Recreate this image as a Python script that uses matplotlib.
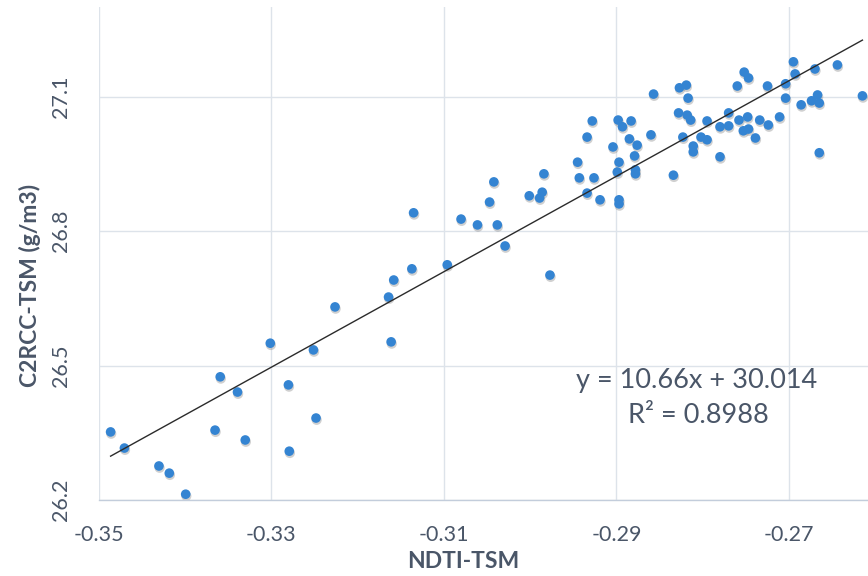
import numpy as np
import matplotlib
matplotlib.use("Agg")
import matplotlib.pyplot as plt
from matplotlib.transforms import offset_copy

# ── Data ─────────────────────────────────────────────────────────
ndti_tsm = [
    -0.3486, -0.3470, -0.3430, -0.3418, -0.3399, -0.3365, -0.3359, -0.3339,
    -0.3330, -0.3301, -0.3280, -0.3279, -0.3251, -0.3248, -0.3226, -0.3164,
    -0.3161, -0.3158, -0.3137, -0.3135, -0.3096, -0.3080, -0.3061, -0.3038,
    -0.3047, -0.3042, -0.3029, -0.2977, -0.3001, -0.2989, -0.2986, -0.2984,
    -0.2945, -0.2943, -0.2926, -0.2934, -0.2919, -0.2897, -0.2897, -0.2934,
    -0.2928, -0.2904, -0.2898, -0.2893, -0.2883, -0.2885, -0.2876, -0.2897,
    -0.2879, -0.2899, -0.2878, -0.2878, -0.2860, -0.2857, -0.2834, -0.2828,
    -0.2827, -0.2819, -0.2817, -0.2818, -0.2814, -0.2823, -0.2802, -0.2795,
    -0.2811, -0.2811, -0.2795, -0.2780, -0.2770, -0.2780, -0.2770, -0.2760,
    -0.2752, -0.2747, -0.2725, -0.2704, -0.2704, -0.2695, -0.2693, -0.2670,
    -0.2644, -0.2615, -0.2758, -0.2748, -0.2734, -0.2724, -0.2711, -0.2753,
    -0.2747, -0.2739, -0.2686, -0.2674, -0.2667, -0.2665, -0.2665,
]
c2rcc_tsm = [
    26.352, 26.316, 26.276, 26.260, 26.213, 26.356, 26.475, 26.441,
    26.334, 26.550, 26.457, 26.309, 26.535, 26.383, 26.631, 26.653,
    26.553, 26.691, 26.716, 26.841, 26.725, 26.827, 26.814, 26.814,
    26.865, 26.910, 26.767, 26.702, 26.879, 26.874, 26.887, 26.928,
    26.954, 26.919, 26.919, 26.885, 26.870, 26.870, 26.861, 27.010,
    27.046, 26.988, 27.048, 27.033, 27.046, 27.006, 26.992, 26.954,
    26.968, 26.932, 26.937, 26.928, 27.015, 27.106, 26.925, 27.064,
    27.120, 27.126, 27.097, 27.059, 27.048, 27.010, 27.010, 27.004,
    26.990, 26.977, 27.046, 27.033, 27.035, 26.966, 27.064, 27.124,
    27.155, 27.142, 27.124, 27.129, 27.097, 27.178, 27.151, 27.162,
    27.171, 27.102, 27.048, 27.055, 27.048, 27.037, 27.055, 27.024,
    27.028, 27.008, 27.082, 27.091, 27.104, 27.086, 26.975,
]

slope = 10.66
intercept = 30.014
r_squared = 0.8988

x_ticks = [-0.35, -0.33, -0.31, -0.29, -0.27]
y_ticks = [26.2, 26.5, 26.8, 27.1]

# ── Style ────────────────────────────────────────────────────────
plt.rcParams["font.family"] = ["Lato", "DejaVu Sans"]
text_col = "#4a5668"
grid_col = "#dde3ea"
dot_col = "#3484d2"

fig = plt.figure(figsize=(8.68, 5.76), dpi=100)
ax = fig.add_axes([0.1135, 0.1319, 0.895, 0.8557])

x = np.array(ndti_tsm)
y = np.array(c2rcc_tsm)

# soft drop shadow under each marker, like the Excel style
shadow = offset_copy(ax.transData, fig=fig, x=0.6, y=-1.8, units="dots")
ax.scatter(x, y, s=54, color="#7a7a7a", alpha=0.35, edgecolors="none",
           transform=shadow, zorder=2)
ax.scatter(x, y, s=48, color=dot_col, edgecolors="none", zorder=3)

# linear trendline over the data range
xl = np.array([x.min(), x.max()])
ax.plot(xl, slope * xl + intercept, color="#2b2b2b", lw=1.0, zorder=4)

ax.set_xlim(-0.35, -0.26)
ax.set_ylim(26.2, 27.3)
ax.set_xticks(x_ticks)
ax.set_yticks(y_ticks)
ax.set_xticklabels([f"{v:.2f}" for v in x_ticks])
ax.set_yticklabels([f"{v:.1f}" for v in y_ticks], rotation=90, va="center")
ax.tick_params(axis="both", length=0, labelsize=15.5, labelcolor=text_col)
ax.tick_params(axis="x", pad=18)
ax.tick_params(axis="y", pad=20)

ax.grid(True, color=grid_col, lw=1.0, zorder=0)
ax.set_axisbelow(True)
for side in ["top", "right", "left"]:
    ax.spines[side].set_visible(False)
ax.spines["bottom"].set_color("#c3cddb")
ax.spines["bottom"].set_linewidth(1.0)

fig.text(463 / 868, 1 - 562 / 576, "NDTI-TSM", ha="center", va="center",
         fontsize=16.5, fontweight="bold", color=text_col)
fig.text(30 / 868, 1 - 285 / 576, "C2RCC-TSM (g/m3)", ha="center", va="center",
         rotation=90, fontsize=16.5, fontweight="bold", color=text_col)

ax.text(0.770, 0.2435, f"y = {slope:.2f}x + {intercept:.3f}", transform=ax.transAxes,
        ha="center", va="center", fontsize=19.5, color=text_col)
ax.text(0.772, 0.172, f"R² = {r_squared:.4f}", transform=ax.transAxes,
        ha="center", va="center", fontsize=19.5, color=text_col)

plt.savefig("out.png", dpi=100)
